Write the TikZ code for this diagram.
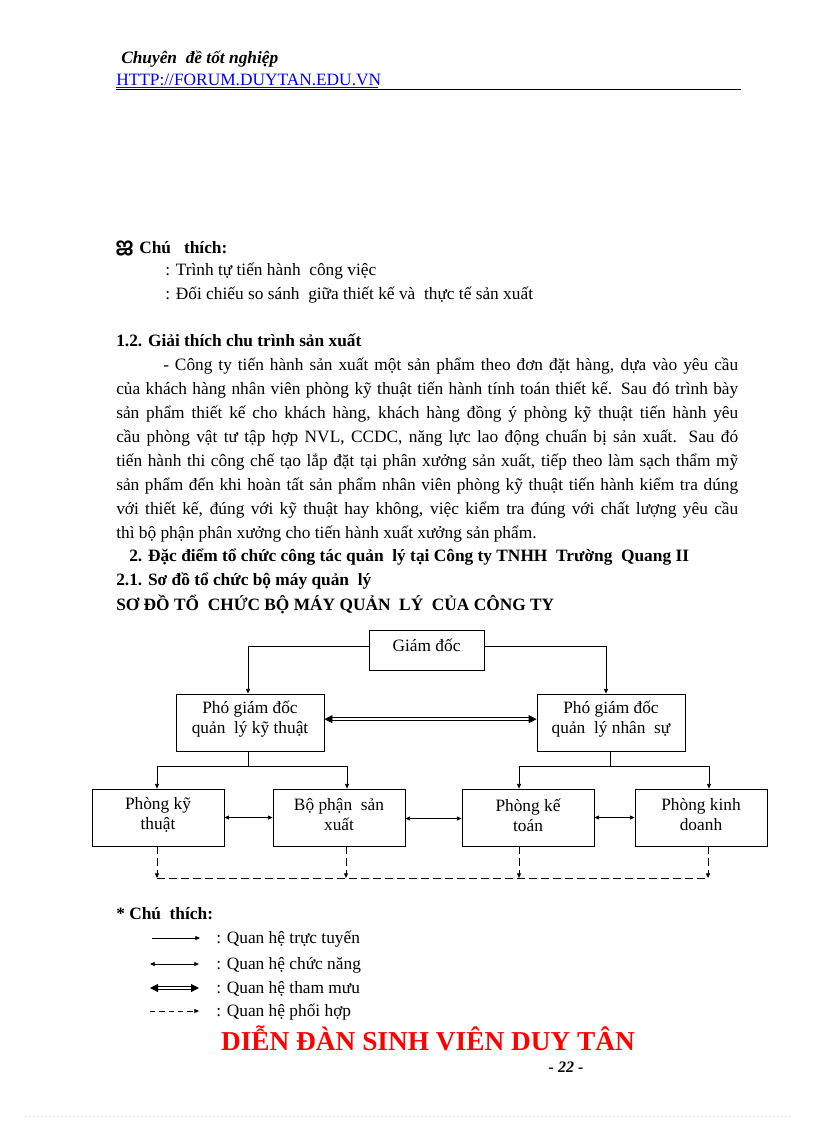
\documentclass[tikz,border=0pt]{standalone}
\usepackage{fontspec}
\setmainfont{Liberation Serif}
\newfontfamily\malfont[Script=Malayalam]{Hind Kochi}
\usetikzlibrary{arrows.meta,calc}
\definecolor{linkblue}{HTML}{0000FF}
\definecolor{titlered}{HTML}{FF0000}
\definecolor{dotgreen}{HTML}{B8E6B8}
\begin{document}
\begin{tikzpicture}[x=0.75pt,y=-0.75pt,
  txt/.style={anchor=base west, inner sep=0pt, font=\fontsize{13}{15}\selectfont},
  btxt/.style={anchor=base west, inner sep=0pt, font=\fontsize{13}{15}\selectfont\bfseries},
  legtxt/.style={anchor=base west, inner sep=0pt, font=\fontsize{13}{15}\selectfont},
  box/.style={draw, line width=0.6pt, inner sep=0pt},
  lbl/.style={inner sep=0pt, align=center, font=\fontsize{13}{15}\selectfont},
  ln/.style={line width=0.6pt},
  tipone/.style={-{Triangle[length=3.5pt,width=3pt]}},
  tipboth/.style={{Triangle[length=3.5pt,width=3pt]}-{Triangle[length=3.5pt,width=3pt]}},
  dsh/.style={line width=0.6pt, dash pattern=on 6pt off 3pt},
  dblarrow/.style={line width=0.6pt, double distance=1.4pt, {Triangle[length=6pt,width=6pt]}-{Triangle[length=6pt,width=6pt]}},
]
\useasboundingbox (0,0) rectangle (816,1123);

% header
\node[anchor=base west, inner sep=0pt, font=\fontsize{13}{15}\selectfont\bfseries\itshape] (hd1) at (121,64) {Chuyên\ \ đề tốt nghiệp};
\node[anchor=base west, inner sep=0pt, font=\fontsize{13}{15}\selectfont, text=linkblue] (hd2) at (116,86) {HTTP://FORUM.DUYTAN.EDU.VN};
\draw[linkblue, line width=0.75pt] (116,88) -- (378,88);
\draw[line width=0.6pt] (116,89.5) -- (741,89.5);

% chu thich top
\node[anchor=base west, inner sep=0pt, font=\fontsize{17}{18}\selectfont\malfont\bfseries] (sym) at (115,254) {ജ};
\node[btxt] (ct1) at (139,253) {Chú\ \ \ thích:};
\node[txt] (ct2) at (165,275) {: Trình tự tiến hành\ \ công việc};
\node[txt] (ct3) at (165,299) {: Đối chiếu so sánh\ \ giữa thiết kế và\ \ thực tế sản xuất};

% section 1.2
\node[btxt] (s12) at (116,346) {1.2. Giải thích chu trình sản xuất};
\node[txt] (p1) at (163,370) {\makebox[431.25pt][s]{- Công ty tiến hành sản xuất một sản phẩm theo đơn đặt hàng, dựa vào yêu cầu}};
\node[txt] (p2) at (116,394) {\makebox[466.5pt][s]{của khách hàng nhân viên phòng kỹ thuật tiến hành tính toán thiết kế. Sau đó trình bày}};
\node[txt] (p3) at (116,418) {\makebox[466.5pt][s]{sản phẩm thiết kế cho khách hàng, khách hàng đồng ý phòng kỹ thuật tiến hành yêu}};
\node[txt] (p4) at (116,442) {\makebox[466.5pt][s]{cầu phòng vật tư tập hợp NVL, CCDC, năng lực lao động chuẩn bị sản xuất. Sau đó}};
\node[txt] (p5) at (116,466) {\makebox[466.5pt][s]{tiến hành thi công chế tạo lắp đặt tại phân xưởng sản xuất, tiếp theo làm sạch thẩm mỹ}};
\node[txt] (p6) at (116,490) {\makebox[466.5pt][s]{sản phẩm đến khi hoàn tất sản phẩm nhân viên phòng kỹ thuật tiến hành kiểm tra dúng}};
\node[txt] (p7) at (116,514) {\makebox[466.5pt][s]{với thiết kế, đúng với kỹ thuật hay không, việc kiểm tra đúng với chất lượng yêu cầu}};
\node[txt] (p8) at (116,538) {thì bộ phận phân xưởng cho tiến hành xuất xưởng sản phẩm.};
\node[btxt] (s2) at (129,561) {2. Đặc điểm tổ chức công tác quản\ \ lý tại Công ty TNHH\ \ Trường\ \ Quang II};
\node[btxt] (s21) at (116,585) {2.1. Sơ đồ tổ chức bộ máy quản\ \ lý};
\node[btxt] (ttl) at (116,610) {SƠ ĐỒ TỔ\ \ CHỨC BỘ MÁY QUẢN\ \ LÝ\ \ CỦA CÔNG TY};

% org chart boxes
\node[box, minimum width=86.25pt, minimum height=30pt] (gd) at (426.5,650) {};
\node[lbl] (gdt) at (426.5,645) {Giám đốc};
\node[box, minimum width=111pt, minimum height=42.75pt] (pgdkt) at (250,722.5) {};
\node[lbl] (pgdktt) at (250,719) {Phó giám đốc\\quản\ \ lý kỹ thuật};
\node[box, minimum width=111pt, minimum height=42.75pt] (pgdns) at (611,722.5) {};
\node[lbl] (pgdnst) at (611,719) {Phó giám đốc\\quản\ \ lý nhân\ \ sự};
\node[box, minimum width=99pt, minimum height=42.75pt] (ptech) at (158,817.5) {};
\node[lbl] (ptecht) at (158,815) {Phòng kỹ\\thuật};
\node[box, minimum width=99pt, minimum height=42.75pt] (bpsx) at (339,817.5) {};
\node[lbl] (bpsxt) at (339,815) {Bộ phận\ \ sản\\xuất};
\node[box, minimum width=99pt, minimum height=42.75pt] (pkt) at (528,817.5) {};
\node[lbl] (pktt) at (528,815) {Phòng kế\\toán};
\node[box, minimum width=99pt, minimum height=42.75pt] (pkd) at (701,817.5) {};
\node[lbl] (pkdt) at (701,815) {Phòng kinh\\doanh};

% connectors
\draw[ln,tipone] ([yshift=3pt]gd.west) -| ([xshift=-1.5pt]pgdkt.north);
\draw[ln,tipone] ([yshift=3pt]gd.east) -| ([xshift=-3.75pt]pgdns.north);
\draw[dblarrow] ([yshift=2.5pt]pgdkt.east) -- ([yshift=2.5pt]pgdns.west);
\draw[ln] ([xshift=-1.5pt]pgdkt.south) -- ++(0,15) coordinate (kb);
\draw[ln,tipone] (kb) -| ([xshift=-0.75pt]ptech.north);
\draw[ln,tipone] (kb) -| ([xshift=6pt]bpsx.north);
\draw[ln] ([xshift=-0.75pt]pgdns.south) -- ++(0,15) coordinate (nb);
\draw[ln,tipone] (nb) -| ([xshift=-6.75pt]pkt.north);
\draw[ln,tipone] (nb) -| ([xshift=6pt]pkd.north);
\draw[ln,tipboth] (ptech.east) -- (bpsx.west);
\draw[ln,tipboth] ([yshift=-0.75pt]bpsx.east) -- ([yshift=-0.75pt]pkt.west);
\draw[ln,tipboth] (pkt.east) -- (pkd.west);

% dashed coordination
\coordinate (dl) at (157,878);
\coordinate (dr) at (708,878);
\draw[dsh] (dl) -- (dr);
\draw[dsh,tipone] ([xshift=-0.75pt]ptech.south) -- ([xshift=-0.75pt]ptech.south |- dl);
\draw[dsh,tipone] ([xshift=5.25pt]bpsx.south) -- ([xshift=5.25pt]bpsx.south |- dl);
\draw[dsh,tipone] ([xshift=-6.75pt]pkt.south) -- ([xshift=-6.75pt]pkt.south |- dl);
\draw[dsh,tipone] ([xshift=5.25pt]pkd.south) -- ([xshift=5.25pt]pkd.south |- dl);

% legend
\node[btxt] (leg) at (116,919) {*\ Chú\ \ thích:};
\coordinate (l1a) at (152,938); \coordinate (l1b) at (200,938);
\coordinate (l2a) at (150,964); \coordinate (l2b) at (199,964);
\coordinate (l3a) at (150,988); \coordinate (l3b) at (199,988);
\coordinate (l4a) at (150,1011); \coordinate (l4b) at (199,1011);
\draw[ln,tipone] (l1a) -- (l1b);
\draw[ln,tipboth] (l2a) -- (l2b);
\draw[line width=0.8pt, double distance=1pt, {Triangle[length=6pt,width=6pt]}-{Triangle[length=6pt,width=6pt]}] (l3a) -- (l3b);
\draw[ln, dash pattern=on 4pt off 3pt, tipone] (l4a) -- (l4b);
\node[legtxt] (lt1) at (216,943) {: Quan hệ trực tuyến};
\node[legtxt] (lt2) at (216,969) {: Quan hệ chức năng};
\node[legtxt] (lt3) at (216,993) {: Quan hệ tham mưu};
\node[legtxt] (lt4) at (216,1016) {: Quan hệ phối hợp};

% footer
\node[anchor=base, inner sep=0pt, font=\fontsize{20.5}{22}\selectfont\bfseries, text=titlered] (ft) at (428,1050) {DIỄN ĐÀN SINH VIÊN DUY TÂN};
\node[anchor=base, inner sep=0pt, font=\fontsize{12}{14}\selectfont\bfseries\itshape] (pg) at (566,1072) {- 22 -};
\draw[dotgreen, line width=0.75pt, dash pattern=on 1pt off 2pt] (25,1116) -- (790,1116);
\end{tikzpicture}
\end{document}
